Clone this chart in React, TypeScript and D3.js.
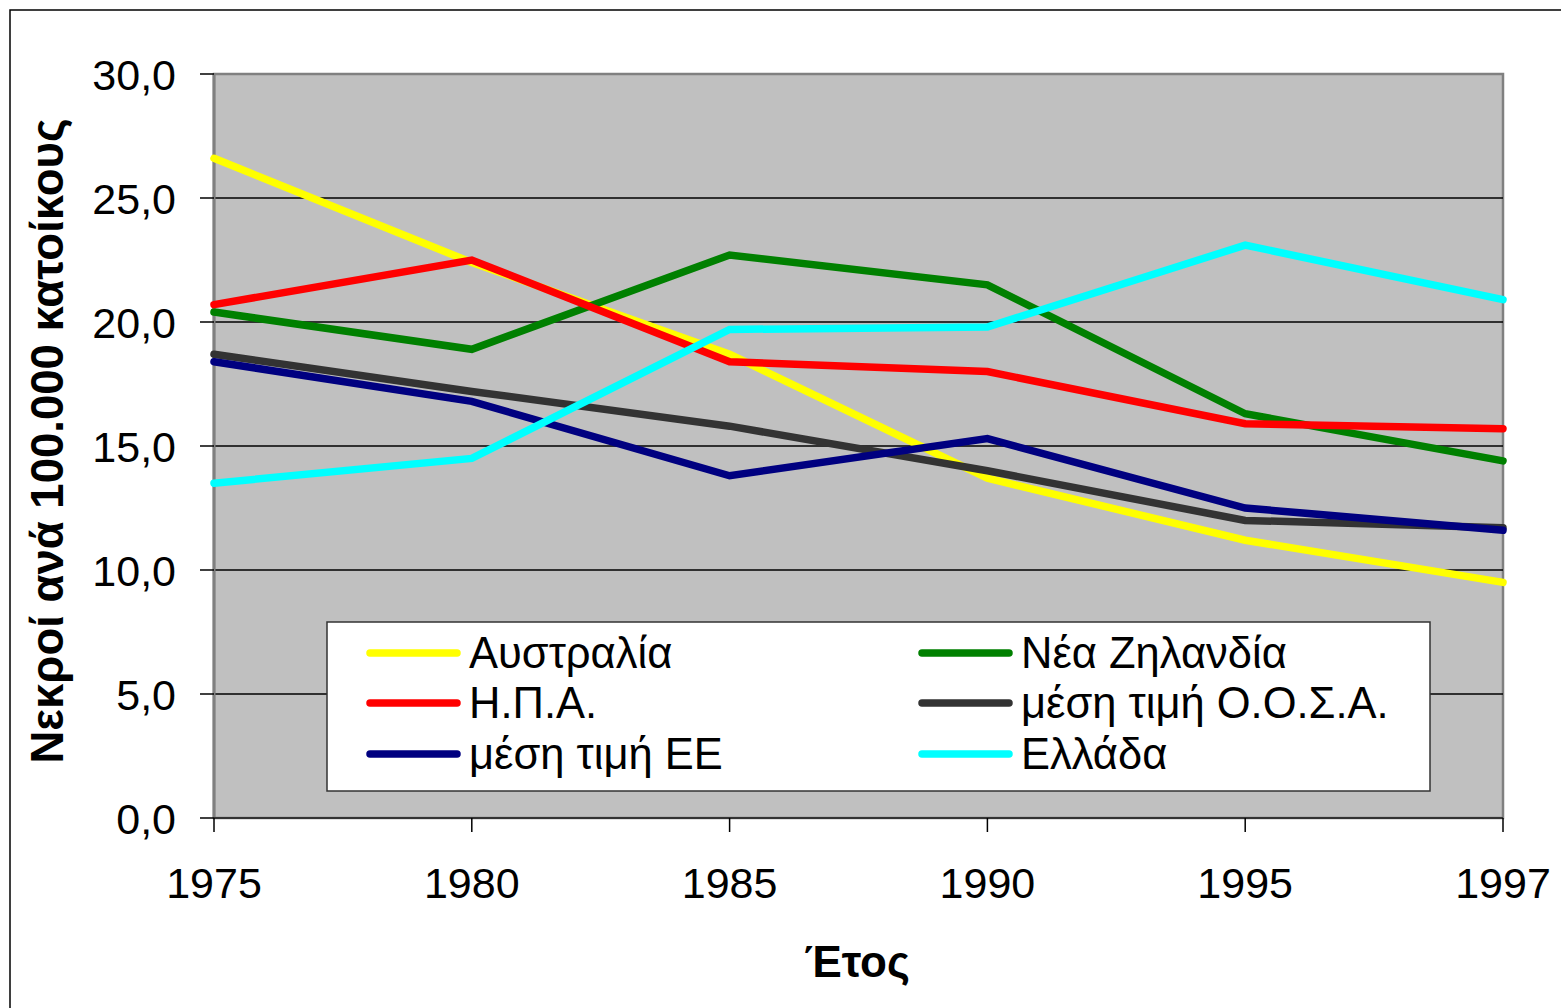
import React from "react";
import * as d3 from "d3";

const years = ["1975", "1980", "1985", "1990", "1995", "1997"];
const yTicks = [0, 5, 10, 15, 20, 25, 30];

const australia = [26.6, 22.4, 18.7, 13.7, 11.2, 9.5];
const newZealand = [20.4, 18.9, 22.7, 21.5, 16.3, 14.4];
const usa = [20.7, 22.5, 18.4, 18.0, 15.9, 15.7];
const oecd = [18.7, 17.2, 15.8, 14.0, 12.0, 11.7];
const eu = [18.4, 16.8, 13.8, 15.3, 12.5, 11.6];
const greece = [13.5, 14.5, 19.7, 19.8, 23.1, 20.9];

const seriesNames = [
  "Αυστραλία",
  "Νέα Ζηλανδία",
  "Η.Π.Α.",
  "μέση τιμή Ο.Ο.Σ.Α.",
  "μέση τιμή ΕΕ",
  "Ελλάδα",
];
const seriesValues = [australia, newZealand, usa, oecd, eu, greece];
const seriesColors = ["#FFFF00", "#008000", "#FF0000", "#333333", "#000080", "#00FFFF"];

const yTitle = "Νεκροί ανά 100.000 κατοίκους";
const xTitle = "Έτος";

const FONT = "'Liberation Sans', Arial, Helvetica, sans-serif";

export default function App() {
  const W = 1561;
  const H = 1008;
  const left = 214;
  const right = 1503;
  const top = 74;
  const bottom = 818;

  const x = d3.scalePoint<string>().domain(years).range([left, right]);
  const y = d3.scaleLinear().domain([0, 30]).range([bottom, top]);
  const fmt = (v: number) => d3.format(".1f")(v).replace(".", ",");

  const line = d3
    .line<number>()
    .x((_, i) => x(years[i]) as number)
    .y((d) => y(d));

  const legend = { x: 327, y: 622, w: 1103, h: 169 };
  const colX = [370, 922];
  const rowY = [653, 703, 754];

  return (
    <svg
      width={W}
      height={H}
      style={{ position: "absolute", left: 0, top: 0, background: "#fff" }}
      fontFamily={FONT}
    >
      <rect x={10} y={10} width={1600} height={1100} fill="#fff" stroke="#000" strokeWidth={1.5} />

      {/* plot area */}
      <rect x={left} y={top} width={right - left} height={bottom - top} fill="#C0C0C0" stroke="#808080" strokeWidth={2.5} />

      {/* gridlines */}
      {yTicks
        .filter((t) => t > 0 && t < 30)
        .map((t) => (
          <line key={"g" + t} x1={left} x2={right} y1={y(t)} y2={y(t)} stroke="#000" strokeWidth={1.5} />
        ))}

      {/* axes */}
      <line x1={left} x2={left} y1={top} y2={bottom} stroke="#808080" strokeWidth={3} />
      <line x1={left} x2={right} y1={bottom} y2={bottom} stroke="#333" strokeWidth={2} />

      {/* y ticks */}
      {yTicks.map((t) => (
        <g key={"yt" + t}>
          <line x1={200} x2={left} y1={y(t)} y2={y(t)} stroke="#000" strokeWidth={1.5} />
          <text x={176} y={y(t) + 15.5} textAnchor="end" fontSize={43} fill="#000">
            {fmt(t)}
          </text>
        </g>
      ))}

      {/* x ticks */}
      {years.map((yr) => (
        <g key={"xt" + yr}>
          <line x1={x(yr)} x2={x(yr)} y1={bottom} y2={bottom + 14} stroke="#000" strokeWidth={1.5} />
          <text x={x(yr)} y={898} textAnchor="middle" fontSize={43} fill="#000">
            {yr}
          </text>
        </g>
      ))}

      {/* series */}
      {seriesValues.map((vals, i) => (
        <path
          key={"s" + i}
          d={line(vals) as string}
          fill="none"
          stroke={seriesColors[i]}
          strokeWidth={7.5}
          strokeLinejoin="miter"
          strokeLinecap="round"
        />
      ))}

      {/* legend */}
      <rect x={legend.x} y={legend.y} width={legend.w} height={legend.h} fill="#fff" stroke="#333" strokeWidth={1.5} />
      {seriesNames.map((name, i) => {
        const cx = colX[i % 2];
        const cy = rowY[Math.floor(i / 2)];
        return (
          <g key={"l" + i}>
            <line x1={cx} x2={cx + 87} y1={cy} y2={cy} stroke={seriesColors[i]} strokeWidth={7.5} strokeLinecap="round" />
            <text x={cx + 99} y={cy + 15} fontSize={43.5} fill="#000">
              {name}
            </text>
          </g>
        );
      })}

      {/* axis titles */}
      <text
        transform={`translate(63, 441) rotate(-90)`}
        textAnchor="middle"
        fontSize={45.5}
        fontWeight="bold"
        fill="#000"
      >
        {yTitle}
      </text>
      <text x={857} y={977} textAnchor="middle" fontSize={44} fontWeight="bold" fill="#000">
        {xTitle}
      </text>
    </svg>
  );
}
